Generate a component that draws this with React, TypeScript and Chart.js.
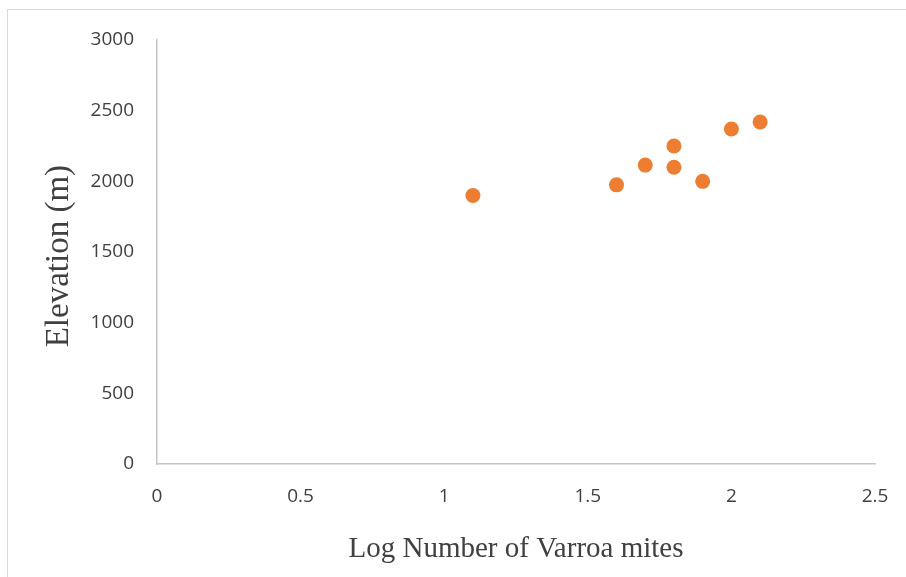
import React, { useEffect, useRef } from "react";
import { Chart, registerables } from "chart.js";

Chart.register(...registerables);

const xValues = [1.1, 1.6, 1.7, 1.8, 1.8, 1.9, 2.0, 2.1];
const yValues = [1900, 1975, 2115, 2250, 2100, 2000, 2370, 2420];
const xTitle = "Log Number of Varroa mites";
const yTitle = "Elevation (m) ";

const W = 906;
const H = 577;

export default function App() {
  const ref = useRef<HTMLCanvasElement | null>(null);

  useEffect(() => {
    if (!ref.current) return;
    const points = xValues.map((x, i) => ({ x, y: yValues[i] }));
    const tickFont = { family: "'Open Sans', sans-serif", size: 19 };
    const chart = new Chart(ref.current, {
      type: "scatter",
      data: {
        datasets: [
          {
            label: "Elevation",
            data: points,
            backgroundColor: "#ED7D31",
            borderColor: "#ED7D31",
            pointRadius: 7.5,
            pointHoverRadius: 7.5,
            borderWidth: 0,
          },
        ],
      },
      options: {
        animation: false,
        responsive: false,
        devicePixelRatio: 1,
        layout: { padding: { left: 0, top: 40, right: 31, bottom: 0 } },
        plugins: { legend: { display: false }, tooltip: { enabled: false } },
        scales: {
          x: {
            type: "linear",
            min: 0,
            max: 2.5,
            grid: { display: false, drawTicks: false },
            border: { display: true, color: "#c4c4c4", width: 1.5 },
            ticks: {
              stepSize: 0.5,
              padding: 21,
              maxRotation: 0,
              color: "#404040",
              font: tickFont,
              callback: (v: any) => String(v),
            },
            title: {
              display: true,
              text: xTitle,
              color: "#404040",
              font: { family: "'Liberation Serif', 'Times New Roman', serif", size: 29 },
              padding: { top: 0, bottom: 10.6 },
            },
            afterFit: (scale: any) => {
              scale.height = 113;
              scale.paddingLeft = 0;
              scale.paddingRight = 0;
            },
          },
          y: {
            type: "linear",
            min: 0,
            max: 3000,
            grid: { display: false, drawTicks: false },
            border: { display: true, color: "#c4c4c4", width: 1.5 },
            ticks: {
              stepSize: 500,
              padding: 23,
              color: "#404040",
              font: tickFont,
              callback: (v: any) => String(v),
            },
            title: {
              display: true,
              text: yTitle,
              color: "#404040",
              font: { family: "'Liberation Serif', 'Times New Roman', serif", size: 33 },
              padding: { top: 40, bottom: 0 },
            },
            afterFit: (scale: any) => {
              scale.width = 157;
              scale.paddingTop = 0;
              scale.paddingBottom = 0;
            },
          },
        },
      },
    });
    return () => chart.destroy();
  }, []);

  return (
    <div
      style={{
        position: "absolute",
        left: 0,
        top: 0,
        width: W,
        height: H,
        overflow: "hidden",
        background: "#ffffff",
      }}
    >
      <div
        style={{
          position: "absolute",
          left: 7,
          top: 9,
          width: W + 20,
          height: H + 20,
          borderTop: "1.5px solid #d9d9d9",
          borderLeft: "1.5px solid #d9d9d9",
        }}
      />
      <canvas
        ref={ref}
        width={W}
        height={H}
        style={{ position: "absolute", left: 0, top: 0, width: W, height: H, display: "block" }}
      />
    </div>
  );
}
